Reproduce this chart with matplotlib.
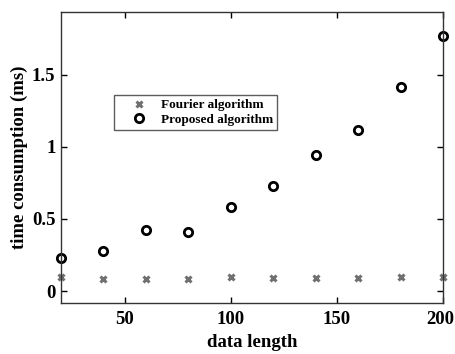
import matplotlib
matplotlib.use('Agg')
import matplotlib.pyplot as plt
import matplotlib.transforms as mtransforms

# data
data_length = [20, 40, 60, 80, 100, 120, 140, 160, 180, 200]
fourier_time = [0.097, 0.085, 0.085, 0.085, 0.097, 0.090, 0.090, 0.090, 0.097, 0.097]
proposed_time = [0.229, 0.280, 0.425, 0.407, 0.580, 0.730, 0.940, 1.117, 1.417, 1.770]

x_ticks = [50, 100, 150, 200]
y_ticks = [0, 0.5, 1, 1.5]
y_tick_labels = ['0', '0.5', '1', '1.5']

plt.rcParams['font.family'] = ['Liberation Serif', 'DejaVu Serif']
plt.rcParams['font.weight'] = 'bold'

fig = plt.figure(figsize=(4.55, 3.54), dpi=100)
ax = fig.add_axes([61 / 455, 1 - 303 / 354, 382 / 455, 291 / 354])

ax.plot(data_length, fourier_time, linestyle='none', marker='x', color='#707070',
        markersize=4.5, markeredgewidth=2.2, label='Fourier algorithm', clip_on=False)
ax.plot(data_length, proposed_time, linestyle='none', marker='o', markerfacecolor='none',
        markeredgecolor='black', markersize=6, markeredgewidth=2.0,
        label='Proposed algorithm', clip_on=False)

ax.set_xlim(20, 200)
ax.set_ylim(-0.083, 1.935)
ax.set_xticks(x_ticks)
ax.set_yticks(y_ticks)
ax.set_yticklabels(y_tick_labels)
ax.tick_params(direction='in', top=True, right=True, labelsize=13.5, length=4, width=1)
ax.tick_params(axis='x', pad=6)
ax.tick_params(axis='y', pad=4)
for lbl in ax.get_xticklabels() + ax.get_yticklabels():
    lbl.set_fontweight('bold')
# nudge the last x label a little so it stays inside the canvas
last = ax.get_xticklabels()[-1]
last.set_transform(last.get_transform() + mtransforms.ScaledTranslation(-3 / 100, 0, fig.dpi_scale_trans))
for sp in ax.spines.values():
    sp.set_linewidth(1)
    sp.set_color('#333333')

ax.set_xlabel('data length', fontsize=13.5, fontweight='bold', labelpad=4)
ax.set_ylabel('time consumption (ms)', fontsize=13.5, fontweight='bold', labelpad=3)

leg = ax.legend(loc='upper left', bbox_to_anchor=(0.138, 0.715), fontsize=9.5,
                frameon=True, fancybox=False, edgecolor='#333333', borderpad=0.3,
                handlelength=3.2, handletextpad=0.05, labelspacing=0.2, borderaxespad=0)
leg.get_frame().set_linewidth(1)
for t in leg.get_texts():
    t.set_fontweight('bold')

fig.savefig('out.png', dpi=100)
